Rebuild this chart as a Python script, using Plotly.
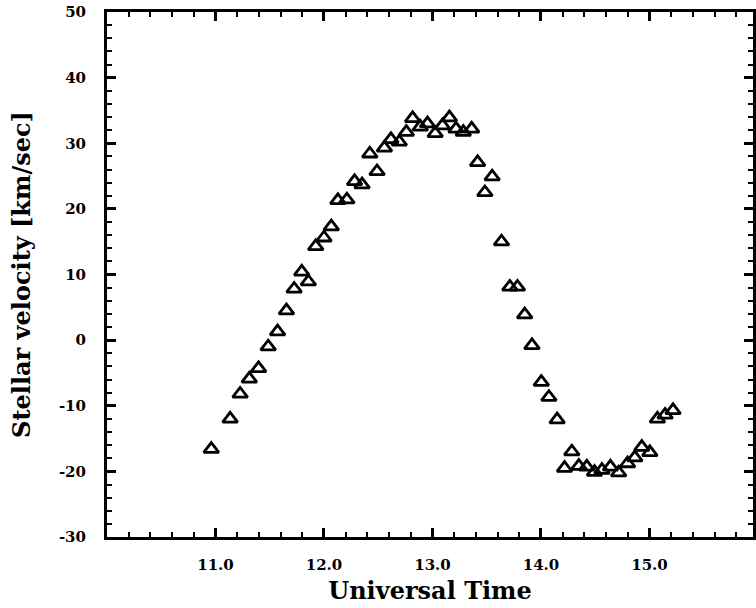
import plotly.graph_objects as go

# Universal Time (hours)
ut = [10.961, 11.135, 11.227, 11.312, 11.397, 11.486, 11.572, 11.654, 11.725, 11.795,
      11.856, 11.924, 12.000, 12.067, 12.128, 12.211, 12.282, 12.351, 12.422, 12.489,
      12.557, 12.617, 12.694, 12.759, 12.817, 12.887, 12.954, 13.025, 13.092, 13.156,
      13.217, 13.284, 13.361, 13.416, 13.483, 13.550, 13.636, 13.713, 13.783, 13.850,
      13.917, 14.003, 14.073, 14.149, 14.217, 14.284, 14.349, 14.422, 14.493, 14.562,
      14.640, 14.716, 14.798, 14.865, 14.929, 15.003, 15.073, 15.144, 15.217]
# Stellar velocity (km/sec)
vel = [-16.6, -12.0, -8.2, -5.9, -4.3, -1.0, 1.3, 4.5, 7.8, 10.4,
       8.9, 14.3, 15.6, 17.3, 21.3, 21.4, 24.2, 23.7, 28.4, 25.7,
       29.3, 30.6, 30.2, 31.7, 33.8, 32.5, 33.0, 31.5, 32.7, 33.9,
       32.2, 31.7, 32.2, 27.1, 22.5, 24.9, 15.0, 8.1, 8.1, 3.9,
       -0.8, -6.4, -8.7, -12.1, -19.5, -17.0, -19.2, -19.3, -20.1, -19.8,
       -19.3, -20.2, -18.8, -17.9, -16.3, -17.1, -12.0, -11.4, -10.7]

x_ticks = [11.0, 12.0, 13.0, 14.0, 15.0]
x_tick_text = ["11.0", "12.0", "13.0", "14.0", "15.0"]
y_ticks = [-30, -20, -10, 0, 10, 20, 30, 40, 50]
y_tick_text = ["-30", "-20", "-10", "0", "10", "20", "30", "40", "50"]

FONT = "DejaVu Serif"

fig = go.Figure()
fig.add_trace(go.Scatter(
    x=ut, y=vel, mode="markers",
    marker=dict(symbol="triangle-up-open", size=13, color="black",
                line=dict(color="black", width=2.8)),
    showlegend=False,
))

fig.update_layout(
    width=756, height=608,
    margin=dict(l=107, r=0, t=12, b=71),
    plot_bgcolor="white", paper_bgcolor="white",
    font=dict(family=FONT, color="black"),
)

fig.update_xaxes(
    range=[10.0, 10.0 + 649 / 109.0],
    tickmode="array", tickvals=x_ticks, ticktext=x_tick_text,
    ticks="inside", ticklen=9, tickwidth=2.5, tickcolor="black",
    minor=dict(dtick=0.2, ticks="inside", ticklen=5, tickwidth=2, tickcolor="black"),
    showline=True, linewidth=3, linecolor="black", mirror="allticks",
    showgrid=False, zeroline=False,
    tickfont=dict(family=FONT, size=15, weight="bold"),
    ticklabelstandoff=12, ticklabeloverflow="allow",
    title=dict(text="Universal Time", font=dict(family=FONT, size=24, weight="bold"), standoff=10),
)
fig.update_yaxes(
    range=[-30, 50],
    tickmode="array", tickvals=y_ticks, ticktext=y_tick_text,
    ticks="inside", ticklen=9, tickwidth=2.5, tickcolor="black",
    minor=dict(dtick=2, ticks="inside", ticklen=5, tickwidth=2, tickcolor="black"),
    showline=True, linewidth=3, linecolor="black", mirror="allticks",
    showgrid=False, zeroline=False,
    tickfont=dict(family=FONT, size=15, weight="bold"),
    ticklabelstandoff=15, ticklabeloverflow="allow",
    title=dict(text="Stellar velocity [km/sec]", font=dict(family=FONT, size=24, weight="bold"), standoff=22),
)

fig.write_html("out.html", config={"displayModeBar": False},
               post_script="document.body.style.margin='0';")
